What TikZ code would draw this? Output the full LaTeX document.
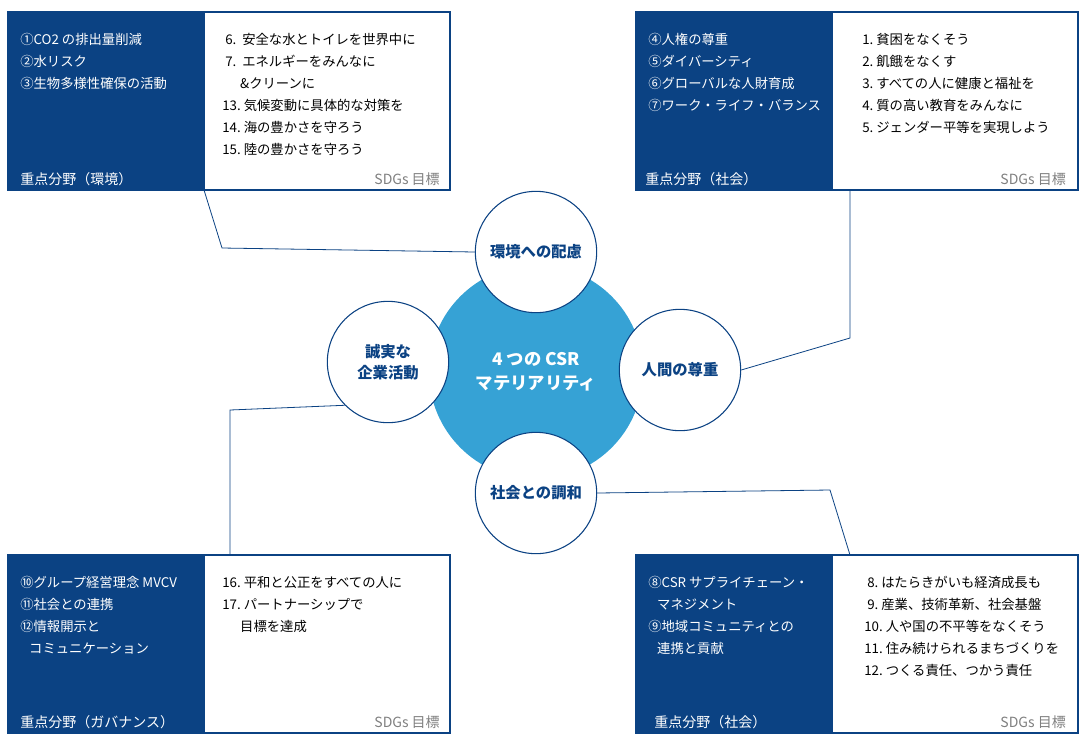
\documentclass[tikz,border=0pt]{standalone}
\usepackage{fontspec}
\setmainfont{Noto Sans CJK JP}
\usetikzlibrary{positioning}
\definecolor{csrnavy}{HTML}{0B4283}
\definecolor{csrblue}{HTML}{36A2D5}
\begin{document}
\begin{tikzpicture}[
    x=0.75pt, y=-0.75pt,
    darkbox/.style={fill=csrnavy, draw=csrnavy},
    whitebox/.style={fill=white, draw=csrnavy, line width=0.8pt},
    itemlist/.style={anchor=north west, align=left, inner sep=0, font=\fontsize{10}{16.5}\selectfont},
    keyarea/.style={anchor=south west, inner sep=0, text=white, font=\fontsize{10.5}{12}\selectfont},
    sdgs/.style={anchor=south east, inner sep=0, text=gray, font=\fontsize{10.5}{12}\selectfont},
    theme/.style={circle, draw=csrnavy, fill=white, line width=0.8pt, minimum size=91pt, inner sep=0,
        align=center, text=csrnavy, font=\bfseries\fontsize{11.5}{16}\selectfont},
    link/.style={draw=csrnavy, line width=0.6pt}
]
\useasboundingbox (0,0) rectangle (1080,747);

% panels
\foreach \px/\py/\name in {8/12/tl, 636/12/tr, 8/555/bl, 636/555/br}{
    \path[whitebox] (\px,\py) rectangle ++(442,178);
    \path[darkbox] (\px,\py) rectangle ++(196,178);
    \coordinate (\name) at (\px,\py);
}

% top left
\node[itemlist, text=white] (tlkey) at (20,33) {①CO2 の排出量削減\\②水リスク\\③生物多様性確保の活動};
\node[itemlist] (tlsdg) at (222,33) {\ 6.\ \ 安全な水とトイレを世界中に\\\ 7.\ \ エネルギーをみんなに\\\ \ \ \ \ \ \&クリーンに\\13.\ 気候変動に具体的な対策を\\14.\ 海の豊かさを守ろう\\15.\ 陸の豊かさを守ろう};
\node[keyarea] (tlarea) at (20,186) {重点分野（環境）};
\node[sdgs] (tllabel) at (440,186) {SDGs 目標};

% top right
\node[itemlist, text=white] (trkey) at (648,33) {④人権の尊重\\⑤ダイバーシティ\\⑥グローバルな人財育成\\⑦ワーク・ライフ・バランス};
\node[itemlist] (trsdg) at (862,33) {1.\ 貧困をなくそう\\2.\ 飢餓をなくす\\3.\ すべての人に健康と福祉を\\4.\ 質の高い教育をみんなに\\5.\ ジェンダー平等を実現しよう};
\node[keyarea] (trarea) at (645,186) {重点分野（社会）};
\node[sdgs] (trlabel) at (1066,186) {SDGs 目標};

% bottom left
\node[itemlist, text=white] (blkey) at (20,576) {⑩グループ経営理念 MVCV\\⑪社会との連携\\⑫情報開示と\\\ \ \ コミュニケーション};
\node[itemlist] (blsdg) at (222,576) {16.\ 平和と公正をすべての人に\\17.\ パートナーシップで\\\ \ \ \ \ \ 目標を達成};
\node[keyarea] (blarea) at (20,729) {重点分野（ガバナンス）};
\node[sdgs] (bllabel) at (440,729) {SDGs 目標};

% bottom right
\node[itemlist, text=white] (brkey) at (648,576) {⑧CSR サプライチェーン・\\\ \ \ マネジメント\\⑨地域コミュニティとの\\\ \ \ 連携と貢献};
\node[itemlist] (brsdg) at (864,576) {\ 8.\ はたらきがいも経済成長も\\\ 9.\ 産業、技術革新、社会基盤\\10.\ 人や国の不平等をなくそう\\11.\ 住み続けられるまちづくりを\\12.\ つくる責任、つかう責任};
\node[keyarea] (brarea) at (654,729) {重点分野（社会）};
\node[sdgs] (brlabel) at (1066,729) {SDGs 目標};

% circles
\node[circle, fill=csrblue, minimum size=160.5pt, inner sep=0, text=white, align=center,
      font=\bfseries\fontsize{13}{18}\selectfont] (core) at (536,372) {4 つの CSR\\マテリアリティ};
\node[theme] (env) at (536,252) {環境への配慮};
\node[theme] (human) at (680,370) {人間の尊重};
\node[theme] (harmony) at (536,493) {社会との調和};
\node[theme] (honest) at (388,362) {誠実な\\企業活動};

% connectors
\coordinate (tlend) at (204,190);
\coordinate (trend) at (850,190);
\coordinate (blend) at (230,555);
\coordinate (brend) at (850,555);
\draw[link] (tlend) -- (222,248) -- (env.west);
\draw[link] (trend) -- (850,338) -- (human.east);
\draw[link] (blend) -- (230,410) -- (honest.south west);
\draw[link] (brend) -- (830,490) -- (harmony.east);
\end{tikzpicture}
\end{document}
